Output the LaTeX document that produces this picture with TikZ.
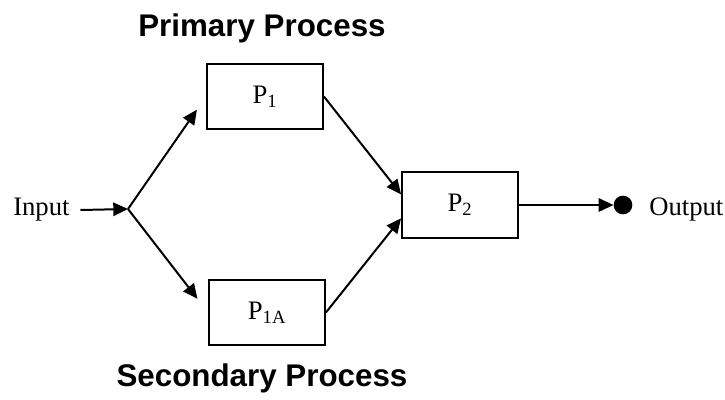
\documentclass[tikz,border=0pt]{standalone}
\usepackage{fontspec}
\setmainfont{Liberation Serif}
\newfontfamily\titlefont{Liberation Sans}
\usetikzlibrary{arrows.meta}
\begin{document}
\begin{tikzpicture}[x=0.75pt, y=-0.75pt,
  proc/.style={draw, line width=1.4pt, minimum width=87pt, minimum height=49pt, inner sep=0pt, font=\fontsize{20}{22}\selectfont},
  lbl/.style={inner sep=0pt, font=\fontsize{20}{22}\selectfont},
  ttl/.style={inner sep=0pt, font=\titlefont\bfseries\fontsize{23.5}{26}\selectfont},
  arr/.style={line width=1.5pt, -{Triangle[length=11pt,width=10pt]}}]
\useasboundingbox (0,0) rectangle (725,400);
\node[ttl] (ttl1) at (262,28){Primary Process};
\node[ttl] (ttl2) at (262,378){Secondary Process};
\node[proc] (p1) at (265,96.5){P\textsubscript{1}};
\node[proc] (p1a) at (267,312.5){P\textsubscript{1A}};
\node[proc] (p2) at (460,205){P\textsubscript{2}};
\node[lbl, anchor=west] (in) at (13,210){Input};
\coordinate (br) at (128,209);
\node[circle, fill, minimum size=14pt, inner sep=0pt] (dot) at (623,205){};
\node[lbl, anchor=west] (out) at (649,210){Output};
\draw[arr] ([xshift=8pt]in.east) -- (br);
\draw[arr, shorten >=12pt] (br) -- (p1.west);
\draw[arr, shorten >=13pt] (br) -- (p1a.west);
\draw[arr] (p1.east) -- ([yshift=8pt]p2.west);
\draw[arr] (p1a.east) -- ([yshift=-10pt]p2.west);
\draw[arr] (p2.east) -- (dot.west);

\end{tikzpicture}
\end{document}
